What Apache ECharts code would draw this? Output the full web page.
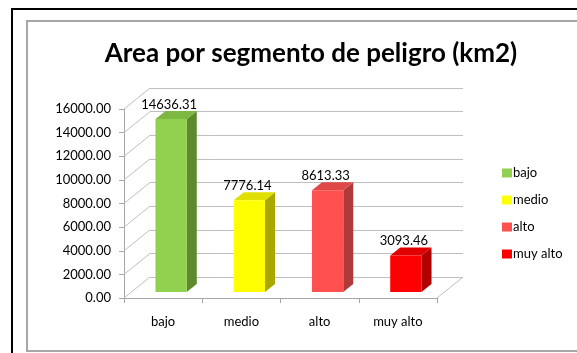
<!DOCTYPE html>
<html>
<head>
<meta charset="utf-8">
<script src="https://cdn.jsdelivr.net/npm/echarts@6/dist/echarts.min.js"></script>
<style>
  html, body { margin: 0; padding: 0; background: #fff; }
  #chart { width: 577px; height: 353px; }
</style>
</head>
<body>
<div id="chart"></div>
<script>
// Hazard segments and their area in km2
const categories = ['bajo', 'medio', 'alto', 'muy alto'];
const areas = [14636.31, 7776.14, 8613.33, 3093.46];
const yTicks = [0, 2000, 4000, 6000, 8000, 10000, 12000, 14000, 16000];

// Face colours of the pseudo-3D columns: front, side, top
const frontColors = ['#92D050', '#FFFF00', '#FF5050', '#FF0000'];
const sideColors  = ['#5E8A2E', '#A8A800', '#B03A3A', '#B00000'];
const topColors   = ['#7DB843', '#E0E000', '#E04848', '#E00000'];

const FONT = 'Lato, "Liberation Sans", sans-serif';
const WALL_DX = 26, WALL_DY = -21;   // back wall offset
const BAR_DX = 8,  BAR_DY = -6;      // column placement inside the depth
const SIDE_DX = 10, SIDE_DY = -8;    // column depth

function barRenderer(idx) {
  return function (params, api) {
    const x = api.value(0), v = api.value(1);
    const topPt = api.coord([x, v]);
    const basePt = api.coord([x, 0]);
    const band = api.size([1, 0])[0];
    const w = band * 0.4;
    const x0 = topPt[0] - w / 2 + BAR_DX;
    const top = topPt[1] + BAR_DY;
    const bottom = basePt[1] + BAR_DY;
    return {
      type: 'group',
      children: [
        { type: 'polygon', shape: { points: [[x0 + w, top], [x0 + w + SIDE_DX, top + SIDE_DY], [x0 + w + SIDE_DX, bottom + SIDE_DY], [x0 + w, bottom]] },
          style: { fill: sideColors[idx] } },
        { type: 'polygon', shape: { points: [[x0, top], [x0 + SIDE_DX, top + SIDE_DY], [x0 + w + SIDE_DX, top + SIDE_DY], [x0 + w, top]] },
          style: { fill: topColors[idx] } },
        { type: 'rect', shape: { x: x0, y: top, width: w, height: bottom - top },
          style: { fill: frontColors[idx] } },
        { type: 'text', style: { text: v.toFixed(2), x: x0 + w / 2 - 2, y: top - 8,
          align: 'center', verticalAlign: 'bottom', fill: '#000', font: '13px ' + FONT } }
      ]
    };
  };
}

// Left wall diagonals and the right edge of the floor
function wallRenderer(params, api) {
  const v = api.value(1);
  const band = api.size([1, 0])[0];
  const p = api.coord([0, v]);
  const xl = p[0] - band / 2;
  const lineStyle = { stroke: '#BFBFBF', lineWidth: 1 };
  const children = [
    { type: 'line', shape: { x1: xl, y1: p[1], x2: xl + WALL_DX, y2: p[1] + WALL_DY }, style: lineStyle }
  ];
  if (v === 0) {
    const r = api.coord([categories.length - 1, 0]);
    const xr = r[0] + band / 2;
    children.push({ type: 'line', shape: { x1: xr, y1: r[1], x2: xr + WALL_DX, y2: r[1] + WALL_DY }, style: lineStyle });
  }
  return { type: 'group', children };
}

const chart = echarts.init(document.getElementById('chart'), null, { renderer: 'canvas' });

const series = [{
  type: 'custom',
  name: 'wall',
  xAxisIndex: 0, yAxisIndex: 0,
  silent: true,
  z: 1,
  data: yTicks.map(v => [0, v]),
  renderItem: wallRenderer
}];
categories.forEach((c, i) => {
  series.push({
    type: 'custom',
    name: c,
    xAxisIndex: 0, yAxisIndex: 0,
    z: 3,
    itemStyle: { color: frontColors[i] },
    data: [[i, areas[i]]],
    renderItem: barRenderer(i)
  });
});

chart.setOption({
  animation: false,
  backgroundColor: '#fff',
  graphic: [
    { type: 'rect', shape: { x: 12, y: 9, width: 620, height: 420 }, style: { fill: 'none', stroke: '#000', lineWidth: 2 }, z: 0 },
    { type: 'rect', shape: { x: 27, y: 21, width: 620, height: 330 }, style: { fill: 'none', stroke: '#A6A6A6', lineWidth: 2 }, z: 0 }
  ],
  title: {
    text: 'Area por segmento de peligro (km2)',
    left: 306, top: 36, textAlign: 'center',
    textStyle: { fontFamily: FONT, fontSize: 26, fontWeight: 'bold', color: '#000' }
  },
  legend: {
    orient: 'vertical',
    left: 497, top: 161,
    itemWidth: 10, itemHeight: 9, itemGap: 13,
    icon: 'rect',
    data: categories,
    textStyle: { fontFamily: FONT, fontSize: 13, color: '#000', lineHeight: 14, padding: [0, 0, 0, -4] }
  },
  grid: [
    { left: 124, top: 109, width: 313, height: 189 },
    { left: 124 + WALL_DX, top: 109 + WALL_DY, width: 313, height: 189 }
  ],
  xAxis: [
    { type: 'category', gridIndex: 0, data: categories,
      axisLine: { lineStyle: { color: '#A6A6A6' } },
      axisTick: { show: true, length: 5, alignWithLabel: false, lineStyle: { color: '#A6A6A6' } },
      axisLabel: { margin: 17, color: '#000', fontFamily: FONT, fontSize: 13 } },
    { type: 'category', gridIndex: 1, data: categories, show: false }
  ],
  yAxis: [
    { type: 'value', gridIndex: 0, min: 0, max: 16000, interval: 2000,
      axisLine: { show: true, lineStyle: { color: '#A6A6A6' } },
      axisTick: { show: true, length: 5, lineStyle: { color: '#A6A6A6' } },
      splitLine: { show: false },
      axisLabel: { margin: 13, color: '#000', fontFamily: FONT, fontSize: 13, formatter: v => v.toFixed(2) } },
    { type: 'value', gridIndex: 1, min: 0, max: 16000, interval: 2000,
      axisLine: { show: false }, axisTick: { show: false }, axisLabel: { show: false },
      splitLine: { show: true, lineStyle: { color: '#BFBFBF', width: 1 } } }
  ],
  series
});
</script>
</body>
</html>
